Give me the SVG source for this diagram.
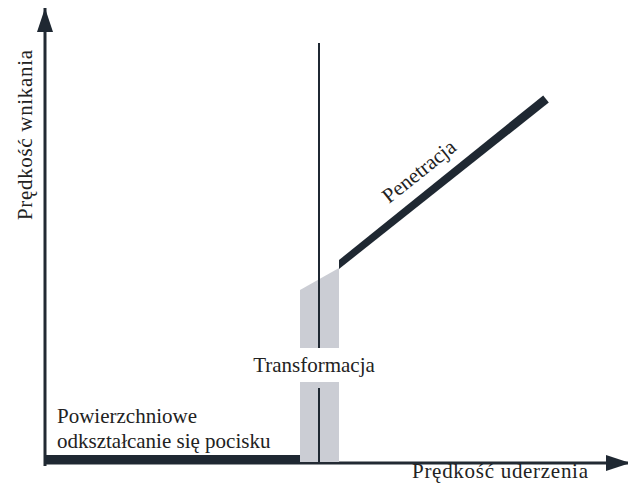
<svg xmlns="http://www.w3.org/2000/svg" width="628" height="494" viewBox="0 0 628 494">
<style>
.lbl{font-family:"Liberation Serif","Times New Roman",serif;font-size:21px;fill:#222}
.ax{stroke:#222a33;stroke-width:3;fill:none}
.dark{fill:#1f2832}
.band{fill:#cbcdd4}
</style>
<defs>
<marker id="arr" markerUnits="userSpaceOnUse" markerWidth="26" markerHeight="16" refX="24" refY="8" orient="auto">
<polygon points="0,0 24,8 0,16" fill="#1f2832"/>
</marker>
</defs>
<rect width="628" height="494" fill="#fff"/>
<g id="connectors">
<line class="ax" x1="45" y1="466" x2="45" y2="8" marker-end="url(#arr)"/>
<line class="ax" x1="44" y1="463" x2="630" y2="463" marker-end="url(#arr)"/>
</g>
<g id="transformacja-band">
<polygon class="band" points="300,290 339,268 339,348 300,348"/>
<polygon class="band" points="300,382 339,382 339,462 300,462"/>
<line x1="319" y1="43" x2="319" y2="348" stroke="#1f2832" stroke-width="2"/>
<line x1="319" y1="388" x2="319" y2="462" stroke="#1f2832" stroke-width="2"/>
<text class="lbl" x="314" y="372" text-anchor="middle">Transformacja</text>
</g>
<g id="odksztalcanie">
<rect class="dark" x="45" y="455" width="255" height="9"/>
<text class="lbl" x="57" y="423">Powierzchniowe</text>
<text class="lbl" x="57" y="448">odkształcanie się pocisku</text>
</g>
<g id="penetracja">
<polygon class="dark" points="339,260 543.2,95.5 548.8,102.5 339,269"/>
<text class="lbl" transform="translate(389,204) rotate(-38.5)">Penetracja</text>
</g>
<g id="axis-labels">
<text class="lbl" transform="translate(32,220) rotate(-90)" textLength="170">Prędkość wnikania</text>
<text class="lbl" x="412" y="478" textLength="176">Prędkość uderzenia</text>
</g>
</svg>
